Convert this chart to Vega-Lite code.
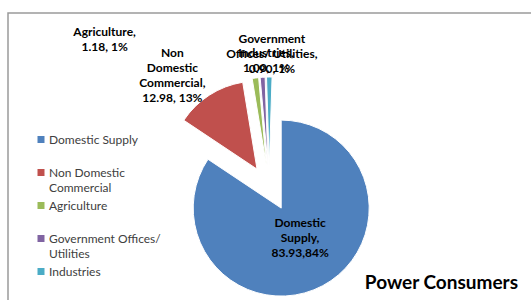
{
  "$schema": "https://vega.github.io/schema/vega-lite/v6.json",
  "width": 524,
  "height": 350,
  "autosize": {"type": "none"},
  "padding": {"left": 8, "top": 13, "right": 0, "bottom": 0},
  "background": "white",
  "view": {"stroke": "#9a9a9a", "strokeWidth": 1.5},
  "title": {"text": "Power Consumers", "orient": "top", "anchor": "end", "offset": 0, "dx": -14, "dy": 295, "baseline": "alphabetic", "font": "Lato", "fontSize": 19, "fontWeight": "bold", "color": "#000000"},
  "data": {"values": [
    {"category": "Domestic Supply", "value": 83.93},
    {"category": "Non Domestic Commercial", "value": 12.98},
    {"category": "Agriculture", "value": 1.18},
    {"category": "Government Offices/ Utilities", "value": 0.90},
    {"category": "Industries", "value": 1.00}
  ]},
  "transform": [
    {"stack": "value", "groupby": [], "as": ["t0", "t1"]},
    {"joinaggregate": [{"op": "sum", "field": "value", "as": "total"}]},
    {"calculate": "(datum.t0 + datum.t1) / 2", "as": "mid"},
    {"calculate": "format(datum.value, '.2f')", "as": "num"},
    {"calculate": "format(datum.value / datum.total, '.0%')", "as": "pct"}
  ],
  "encoding": {
    "color": {
      "field": "category", "type": "nominal",
      "scale": {
        "domain": ["Domestic Supply", "Non Domestic Commercial", "Agriculture", "Government Offices/ Utilities", "Industries"],
        "range": ["#4F81BD", "#C0504D", "#9BBB59", "#8064A2", "#4BACC6"]
      },
      "legend": {
        "title": null, "orient": "none", "legendX": 27, "legendY": 120.5,
        "symbolType": "square", "symbolSize": 49, "symbolStrokeWidth": 0,
        "labelFont": "Lato", "labelFontSize": 12, "labelColor": "#404040",
        "labelOffset": 2, "rowPadding": 5, "gridAlign": "all", "padding": 0, "labelLimit": 0,
        "labelExpr": "length(datum.label) > 20 ? [slice(datum.label, 0, lastindexof(datum.label, ' ')), slice(datum.label, lastindexof(datum.label, ' ') + 1)] : datum.label"
      }
    }
  },
  "layer": [
    {
      "transform": [{"filter": "datum.category == 'Domestic Supply'"}],
      "mark": {"type": "arc", "outerRadius": 88, "stroke": "white", "strokeWidth": 1, "xOffset": 11.2, "yOffset": 20.1},
      "encoding": {
        "theta": {"field": "t0", "type": "quantitative", "stack": null, "scale": {"zero": true, "nice": false}},
        "theta2": {"field": "t1"}
      }
    },
    {
      "transform": [{"filter": "datum.category == 'Non Domestic Commercial'"}],
      "mark": {"type": "arc", "outerRadius": 88, "stroke": "white", "strokeWidth": 1, "xOffset": -13, "yOffset": -18.9},
      "encoding": {
        "theta": {"field": "t0", "type": "quantitative", "stack": null},
        "theta2": {"field": "t1"}
      }
    },
    {
      "transform": [{"filter": "datum.category == 'Agriculture'"}],
      "mark": {"type": "arc", "outerRadius": 88, "stroke": "white", "strokeWidth": 1, "xOffset": -3.6, "yOffset": -22.7},
      "encoding": {
        "theta": {"field": "t0", "type": "quantitative", "stack": null},
        "theta2": {"field": "t1"}
      }
    },
    {
      "transform": [{"filter": "datum.category == 'Government Offices/ Utilities'"}],
      "mark": {"type": "arc", "outerRadius": 88, "stroke": "white", "strokeWidth": 1, "xOffset": -2.1, "yOffset": -22.9},
      "encoding": {
        "theta": {"field": "t0", "type": "quantitative", "stack": null},
        "theta2": {"field": "t1"}
      }
    },
    {
      "transform": [{"filter": "datum.category == 'Industries'"}],
      "mark": {"type": "arc", "outerRadius": 88, "stroke": "white", "strokeWidth": 1, "xOffset": -0.7, "yOffset": -23},
      "encoding": {
        "theta": {"field": "t0", "type": "quantitative", "stack": null},
        "theta2": {"field": "t1"}
      }
    },
    {
      "transform": [
        {"filter": "datum.category == 'Domestic Supply'"},
        {"calculate": "replace(datum.category, ' ', '\\n') + ',\\n' + datum.num + ',' + datum.pct", "as": "txt"}
      ],
      "mark": {"type": "text", "radius": 57.5, "dx": 3, "dy": -16, "font": "Lato", "fontSize": 12, "fontWeight": "bold", "lineBreak": "\n", "lineHeight": 15},
      "encoding": {
        "theta": {"field": "mid", "type": "quantitative", "stack": null},
        "text": {"field": "txt"},
        "color": {"value": "#000000"}
      }
    },
    {
      "transform": [
        {"filter": "datum.category == 'Non Domestic Commercial'"},
        {"calculate": "join(split(datum.category, ' '), '\\n') + ',\\n' + datum.num + ', ' + datum.pct", "as": "txt"}
      ],
      "mark": {"type": "text", "radius": 137.7, "dx": -23, "dy": -19, "font": "Lato", "fontSize": 12, "fontWeight": "bold", "lineBreak": "\n", "lineHeight": 15},
      "encoding": {
        "theta": {"field": "mid", "type": "quantitative", "stack": null},
        "text": {"field": "txt"},
        "color": {"value": "#000000"}
      }
    },
    {
      "transform": [
        {"filter": "datum.category == 'Agriculture'"},
        {"calculate": "datum.category + ',\\n' + datum.num + ', ' + datum.pct", "as": "txt"}
      ],
      "mark": {"type": "text", "radius": 150, "dx": -146.6, "dy": -7, "font": "Lato", "fontSize": 12, "fontWeight": "bold", "lineBreak": "\n", "lineHeight": 15},
      "encoding": {
        "theta": {"field": "mid", "type": "quantitative", "stack": null},
        "text": {"field": "txt"},
        "color": {"value": "#000000"}
      }
    },
    {
      "transform": [
        {"filter": "datum.category == 'Government Offices/ Utilities'"},
        {"calculate": "replace(datum.category, ' ', '\\n') + ',\\n' + datum.num + ', ' + datum.pct", "as": "txt"}
      ],
      "mark": {"type": "text", "radius": 135.3, "dx": 10, "dy": -14, "font": "Lato", "fontSize": 12, "fontWeight": "bold", "lineBreak": "\n", "lineHeight": 15},
      "encoding": {
        "theta": {"field": "mid", "type": "quantitative", "stack": null},
        "text": {"field": "txt"},
        "color": {"value": "#000000"}
      }
    },
    {
      "transform": [
        {"filter": "datum.category == 'Industries'"},
        {"calculate": "datum.category + ',\\n' + datum.num + ', ' + datum.pct", "as": "txt"}
      ],
      "mark": {"type": "text", "radius": 127.7, "dx": -4, "dy": -7, "font": "Lato", "fontSize": 12, "fontWeight": "bold", "lineBreak": "\n", "lineHeight": 15},
      "encoding": {
        "theta": {"field": "mid", "type": "quantitative", "stack": null},
        "text": {"field": "txt"},
        "color": {"value": "#000000"}
      }
    }
  ],
  "config": {
    "view": {"stroke": "#9a9a9a", "strokeWidth": 1.5},
    "style": {"guide-label": {"lineHeight": 15.5}}
  }
}
